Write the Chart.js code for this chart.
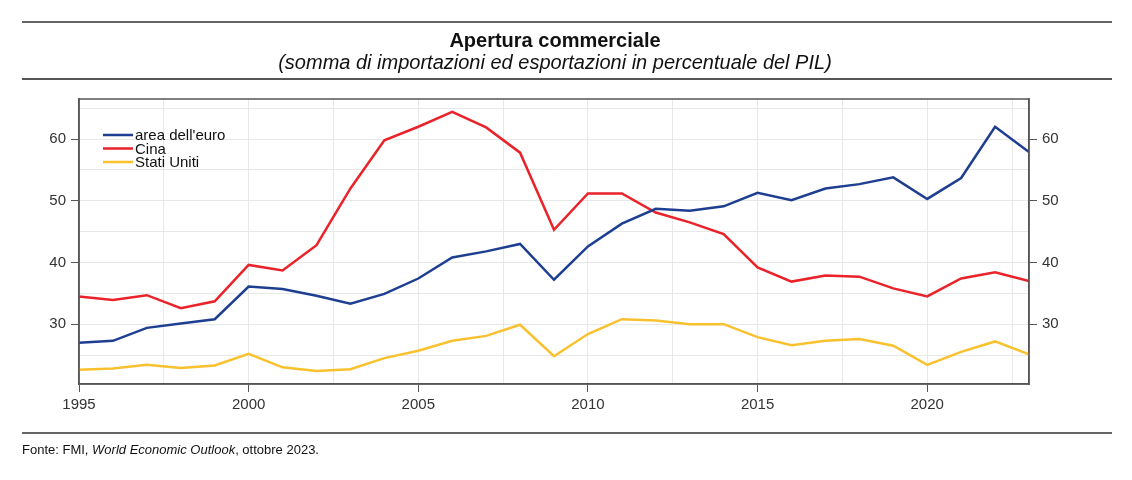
<!DOCTYPE html>
<html>
<head>
<meta charset="utf-8">
<script src="https://cdn.jsdelivr.net/npm/chart.js@4"></script>
<style>
    body { margin: 0; background: #fff; font-family: "Liberation Sans", Arial, sans-serif; }
    #wrap { position: relative; width: 1132px; height: 480px; }
    #c { position: absolute; left: 0; top: 0; }
    .rule { position: absolute; left: 22px; width: 1090px; background: #666; }
    .txt { position: absolute; color: #111; white-space: nowrap; line-height: 20px; }
</style>
</head>
<body>
<div id="wrap">
    <canvas id="c" width="1132" height="480"></canvas>
    <div class="rule" style="top:21px;height:1.5px;"></div>
    <div class="txt" style="left:0;width:1110px;text-align:center;top:30px;font-size:20px;font-weight:bold;">Apertura commerciale</div>
    <div class="txt" style="left:0;width:1110px;text-align:center;top:52px;font-size:20px;font-style:italic;">(somma di importazioni ed esportazioni in percentuale del PIL)</div>
    <div class="rule" style="top:78px;height:2px;background:#555;"></div>
    <div class="rule" style="top:432px;height:1.5px;"></div>
    <div class="txt" style="left:22px;top:440px;font-size:13px;">Fonte: FMI, <i>World Economic Outlook</i>, ottobre 2023.</div>
</div>
<script>
const years = [1995, 1996, 1997, 1998, 1999, 2000, 2001, 2002, 2003, 2004,
    2005, 2006, 2007, 2008, 2009, 2010, 2011, 2012, 2013, 2014,
    2015, 2016, 2017, 2018, 2019, 2020, 2021, 2022, 2023];
const areaEuro = [27.0, 27.3, 29.4, 30.1, 30.8, 36.1, 35.7, 34.6, 33.3, 34.9,
    37.4, 40.8, 41.8, 43.0, 37.2, 42.6, 46.3, 48.7, 48.4, 49.1,
    51.3, 50.1, 52.0, 52.7, 53.8, 50.3, 53.7, 62.0, 57.9];
const cina = [34.5, 33.9, 34.7, 32.6, 33.7, 39.6, 38.7, 42.8, 52.0, 59.8,
    62.0, 64.4, 61.9, 57.8, 45.3, 51.2, 51.2, 48.1, 46.5, 44.6,
    39.2, 36.9, 37.9, 37.7, 35.8, 34.5, 37.4, 38.4, 37.0];
const statiUniti = [22.6, 22.8, 23.4, 22.9, 23.3, 25.2, 23.0, 22.4, 22.7, 24.5,
    25.7, 27.3, 28.1, 29.9, 24.8, 28.4, 30.8, 30.6, 30.0, 30.0,
    27.9, 26.6, 27.3, 27.6, 26.5, 23.4, 25.5, 27.2, 25.1];
const seriesNames = ["area dell'euro", 'Cina', 'Stati Uniti'];
const seriesColors = ['#1d3e91', '#ea2229', '#f9c12e'];

const pts = arr => arr.map((v, i) => ({ x: years[i], y: v }));
const FONT = '"Liberation Sans", Arial, sans-serif';

const framePlugin = {
    id: 'frame',
    afterDraw(chart) {
        const { ctx, chartArea: a } = chart;
        ctx.save();
        ctx.strokeStyle = '#555';
        ctx.lineWidth = 1.5;
        ctx.strokeRect(a.left, a.top, a.right - a.left, a.bottom - a.top);
        // legend
        ctx.font = '15px ' + FONT;
        ctx.textBaseline = 'middle';
        chart.data.datasets.forEach((ds, i) => {
            const y = 135 + i * 13.5;
            ctx.strokeStyle = ds.borderColor;
            ctx.lineWidth = 2.5;
            ctx.beginPath();
            ctx.moveTo(103, y);
            ctx.lineTo(133, y);
            ctx.stroke();
            ctx.fillStyle = '#111';
            ctx.fillText(ds.label, 135, y + 1);
        });
        ctx.restore();
    }
};

const yTicks = {
    stepSize: 5,
    includeBounds: false,
    color: '#333',
    font: { family: FONT, size: 15 },
    padding: 5,
    callback: v => (v % 10 === 0 ? v : '')
};

new Chart(document.getElementById('c'), {
    type: 'line',
    data: {
        datasets: [areaEuro, cina, statiUniti].map((arr, i) => ({
            label: seriesNames[i],
            data: pts(arr),
            borderColor: seriesColors[i],
            backgroundColor: seriesColors[i],
            borderWidth: 2.5,
            pointRadius: 0,
            tension: 0
        }))
    },
    options: {
        responsive: false,
        animation: false,
        layout: { padding: { top: 99, left: 0, right: 0, bottom: 0 } },
        plugins: { legend: { display: false }, tooltip: { enabled: false } },
        scales: {
            x: {
                type: 'linear',
                min: 1995,
                max: 2023,
                afterFit: s => { s.height = 96; },
                ticks: {
                    stepSize: 2.5,
                    includeBounds: false,
                    autoSkip: false,
                    maxRotation: 0,
                    color: '#333',
                    font: { family: FONT, size: 15 },
                    padding: 4,
                    callback: v => (v % 5 === 0 ? String(v) : '')
                },
                grid: {
                    color: '#e8e8e8',
                    lineWidth: 1,
                    tickLength: 8,
                    tickColor: c => (c.tick && c.tick.value % 5 === 0 ? '#555' : 'rgba(0,0,0,0)')
                },
                border: { color: '#555', width: 1.5 }
            },
            y: {
                position: 'left',
                min: 20.3,
                max: 66.5,
                afterFit: s => { s.width = 79; },
                ticks: yTicks,
                grid: {
                    color: '#e8e8e8',
                    lineWidth: 1,
                    tickLength: 8,
                    tickColor: c => (c.tick && c.tick.value % 10 === 0 ? '#555' : 'rgba(0,0,0,0)')
                },
                border: { color: '#555', width: 1.5 }
            },
            y2: {
                position: 'right',
                min: 20.3,
                max: 66.5,
                afterFit: s => { s.width = 103; },
                ticks: yTicks,
                grid: {
                    drawOnChartArea: false,
                    tickLength: 8,
                    tickColor: c => (c.tick && c.tick.value % 10 === 0 ? '#555' : 'rgba(0,0,0,0)')
                },
                border: { color: '#555', width: 1.5 }
            }
        }
    },
    plugins: [framePlugin]
});
</script>
</body>
</html>
